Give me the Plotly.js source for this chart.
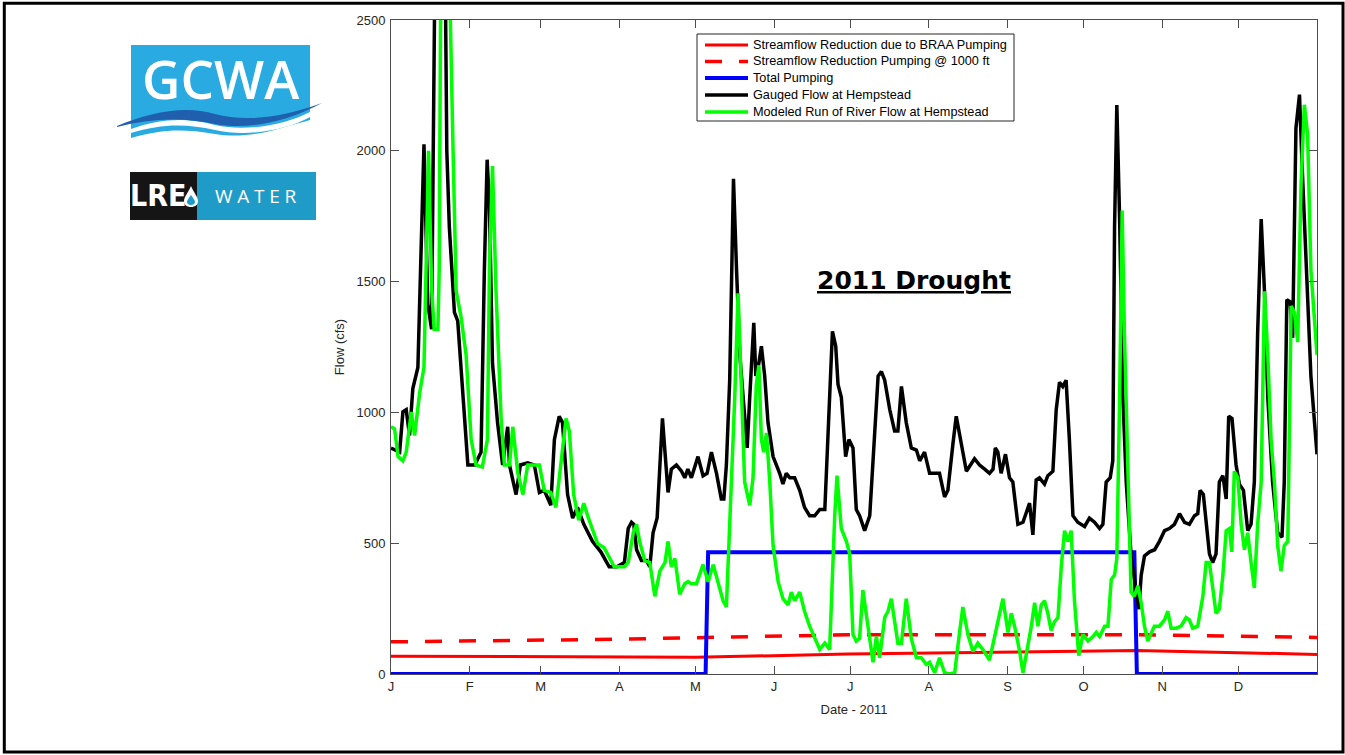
<!DOCTYPE html>
<html>
<head>
<meta charset="utf-8">
<script src="https://cdn.plot.ly/plotly-3.0.1.min.js"></script>
<style>html,body{margin:0;padding:0;background:#fff;}#chart{width:1345px;height:755px;}</style>
</head>
<body>
<div id="chart"></div>
<script>
// ---- data (day offset from 2011-01-01, flow in cfs) ----
const gaugedDay = [0,3.4,4.7,6,7.3,8.6,10.6,12,13,14.5,16,17.8,19.5,21,22,23,25,26.3,28.3,30.3,33,35.5,36.8,37.9,38.8,40,42,44,46,46.7,49.3,51,53.9,56.5,58.5,60.4,63,64.4,66.3,67.6,69.6,71.6,73.5,76,79.4,82.7,86,89,
92,93.5,94.8,95.7,96.8,98.7,100.7,102,103.3,104.9,106,107,108,109.2,110.5,112.5,114.5,115.8,117,118.4,121,123,124.6,126.3,128.3,130.2,131.2,132.2,133.5,135,136.2,137.5,138.8,140.4,141.4,143,143.8,145,146,147.3,148.6,150.6,153.2,154.5,155.8,157.2,159.1,161.1,163,165,167,169,171,172.3,174,175.3,176.2,177.5,179.2,180.5,182.1,
183.4,184.7,186.7,188.7,190,192,193.3,194.6,196.6,198.5,199.8,201.2,203.1,205.1,207.1,208.4,210.3,212.3,214.3,216.2,218.2,219.5,221.5,222.8,224.8,226.8,230,232,234,235.9,237.3,238.2,239.2,240.5,242.2,243.8,245.1,247.1,249.1,250.4,251.7,253,254.3,255.6,257.6,258.9,260.9,262.2,263.5,264.8,266.1,267.4,268.8,270.7,273.4,275.3,277.3,279.3,280.6,281.9,283.5,284.5,285.2,286.1,287.2,288.5,289.8,291.8,293.7,294.8,295.7,297,299,301,302.9,304.9,306.8,308.8,310.8,312.8,314.7,316.7,318,318.9,320.2,321.3,322.6,323.9,325.2,326.5,327.9,329.2,330.2,331.5,333.1,334.4,336,337.7,339,340.3,341.6,343,344.3,345.6,347.5,349.5,351.2,352.1,353.1,354.4,355.4,356.7,358.1,359.1,360.7,362.6,365];
const gaugedFlow = [864,848,1002,1010,912,1091,1172,1674,2025,1415,1318,3200,3600,3100,2000,1707,1382,1350,1058,799,799,848,1545,1966,1788,1188,961,799,945,799,686,799,807,799,694,702,645,896,985,961,686,596,637,572,507,467,410,410,
426,556,580,572,475,434,434,410,540,596,799,977,848,694,783,799,775,750,783,750,831,758,767,848,767,669,669,799,1123,1893,1545,1220,1058,864,1058,1342,1139,1188,1253,1139,961,831,767,726,767,750,750,702,637,605,605,629,629,896,1310,1253,1107,1058,831,896,864,
629,605,548,605,815,1139,1156,1123,1010,929,929,1099,961,864,856,815,848,767,767,767,677,702,880,985,880,775,823,799,783,767,783,864,848,767,840,750,734,572,580,621,653,532,742,750,726,758,775,1010,1115,1099,1123,896,605,580,564,596,580,556,572,734,750,815,1707,2175,1739,1058,734,442,313,248,378,451,467,475,507,548,556,572,613,580,572,605,613,702,686,572,459,426,459,734,758,669,985,977,799,726,702,548,572,734,1301,1739,1463,1058,734,540,523,734,1431,1423,1285,2087,2215,1950,1545,1139,840];

const modeledDay = [0,1.4,2.8,4.7,6,8,9.3,11.3,13,14,14.8,16,17,18.5,19,19.8,21,22.5,23.4,24.4,25.7,27.6,29.6,31.6,33.5,36,38,38.8,40,41.4,43.4,44.7,46.7,48,50,52,53.9,56.5,58.5,60.4,63,65,67,69,70.3,72,74,76,77.5,81.4,84,88,
92,93.5,95.5,96.8,98,100,102,104,106,108,109.2,110.5,111.9,113.8,115.8,117.1,118.4,120.4,123,125,127,129,130.9,132.2,134.2,135.5,136.8,138,139.4,141.4,142.7,144,145,146,146.9,148,149.3,150.6,152.6,154.5,156.5,157.8,159.1,161.1,163,165,167,169,171,172.9,174.9,175.8,177.5,179.5,180.8,
182.1,183.4,184.7,186,187.4,188.7,190,191.3,192.6,194.6,195.9,197.2,198.5,199.8,201.2,203.1,205.1,207.1,209,211,212.3,214.3,216.2,218.2,220.2,222.2,224.1,225.4,227.4,229.4,231.3,233.3,235.9,238.6,241.2,243.2,244.5,245.8,247.8,249.1,250.4,252.4,253.7,255,256.3,257.6,258.9,260.2,261.5,262.9,264.2,265.5,266.8,268.1,269.4,271.1,272.7,274.7,276.7,278,279.3,281.3,282.6,283.9,285.2,286.1,287.2,288.2,289.1,290.4,291.7,293,294.4,295.7,297,298.3,299.6,300.9,302.9,304.9,306.2,307.5,309.5,311.4,313.4,314.7,316,318,320,321.3,322.6,323.9,325.2,326.5,327.9,329.2,330.5,331.4,332.4,333.8,335.1,336.4,337.7,339,340.3,341.6,343,344.3,345.6,346.9,348.2,349.5,350.8,352.1,353.5,354.8,356.1,357.4,358.7,360,361.3,362.6,365];
const modeledFlow = [945,937,831,815,848,1002,912,1075,1172,1707,2000,1480,1318,1318,1545,3000,3700,3400,2500,2030,1463,1366,1220,896,799,791,896,1545,1942,1463,977,799,799,945,767,686,799,799,799,702,694,637,815,977,929,686,588,653,605,499,483,410,
410,426,540,572,507,434,426,297,394,426,507,410,442,305,345,353,345,345,418,353,418,345,280,256,734,1058,1455,1123,734,645,750,1107,1180,896,848,921,734,491,353,288,264,313,280,313,240,183,135,94,118,94,605,758,556,507,459,
151,126,135,321,216,126,45,143,62,216,240,288,199,118,118,288,135,62,62,37,45,5,62,5,0,5,159,256,151,86,118,94,53,167,288,159,232,183,86,5,70,183,272,183,264,280,232,167,199,216,410,548,507,548,280,70,151,126,143,159,143,183,183,361,378,442,1058,1772,1301,734,313,297,337,272,183,126,151,183,183,207,240,175,175,183,216,207,175,183,297,426,426,337,232,248,378,548,556,467,775,750,572,475,540,426,329,572,734,1463,1220,896,734,491,394,491,507,1407,1382,1269,1869,2176,2063,1545,1220];

const braaDay = [0,120,180,260,294,365];
const braaFlow = [68,64,76,84,90,75];

const deepDay = [0,90,180,265,294,365];
const deepFlow = [123,133,150,149,150,140];

const pumpDay = [0,124,125,293,294,365];
const pumpFlow = [0,0,465,465,0,0];

const monthTicks = ['2011-01-01','2011-02-01','2011-03-01','2011-04-01','2011-05-01','2011-06-01','2011-07-01','2011-08-01','2011-09-01','2011-10-01','2011-11-01','2011-12-01'];
const monthLabels = ['J','F','M','A','M','J','J','A','S','O','N','D'];

const seriesNames = ['Streamflow Reduction due to BRAA Pumping','Streamflow Reduction Pumping @ 1000 ft','Total Pumping','Gauged Flow at Hempstead','Modeled Run of River Flow at Hempstead'];

// ---- helpers ----
function toDate(d){
  const t = new Date(Date.UTC(2011,0,1) + d*86400000);
  return t.toISOString().slice(0,19).replace('T',' ');
}
const dates = arr => arr.map(toDate);

// pixel -> paper conversion for decorations
const PL=391, PR=1317, PT=20, PB=674;
const X = p => (p-PL)/(PR-PL);
const Y = p => (PB-p)/(PB-PT);
const path = s => s.replace(/(-?\d+\.?\d*),(-?\d+\.?\d*)/g,(m,a,b)=>X(+a).toFixed(5)+','+Y(+b).toFixed(5));

const styles = [
  {color:'#ff0000', width:3},
  {color:'#ff0000', width:3.5, dash:'17px,17px'},
  {color:'#0000ff', width:4},
  {color:'#000000', width:3.5},
  {color:'#00ff00', width:3.5}
];
const seriesX = [braaDay, deepDay, pumpDay, gaugedDay, modeledDay];
const seriesY = [braaFlow, deepFlow, pumpFlow, gaugedFlow, modeledFlow];

const traces = seriesNames.map((n,i)=>({x:dates(seriesX[i]), y:seriesY[i], name:n, mode:'lines', line:styles[i], showlegend:false}));

const axisFont = {family:'Liberation Sans, Arial, sans-serif', size:13, color:'#262626'};

const shapes = [
  // outer frame
  {type:'rect', xref:'paper', yref:'paper', x0:X(4.3), x1:X(1343), y0:Y(752), y1:Y(3.3), line:{color:'#000', width:3}, layer:'above'},
  // GCWA logo
  {type:'path', xref:'paper', yref:'paper', path:path('M131,45 L310,45 L310,120 C280,128 250,140 215,134 C180,128 160,130 131,138 Z'), fillcolor:'#29abe2', line:{width:0}},
  {type:'path', xref:'paper', yref:'paper', path:path('M131,129 C160,119 185,117 215,125 C245,132 285,125 310,112 L310,117 C285,131 245,137 215,130 C185,123 160,124 131,133 Z'), fillcolor:'#ffffff', line:{width:0}},
  {type:'path', xref:'paper', yref:'paper', path:path('M117,126 C150,112 185,105 215,114 C245,122 280,118 322,103 C285,123 245,130 215,124 C183,117 150,118 117,127 Z'), fillcolor:'#1f5fae', line:{width:0}},
  // LRE WATER logo
  {type:'rect', xref:'paper', yref:'paper', x0:X(130), x1:X(197), y0:Y(220), y1:Y(172), fillcolor:'#151515', line:{width:0}},
  {type:'rect', xref:'paper', yref:'paper', x0:X(197), x1:X(316), y0:Y(220), y1:Y(172), fillcolor:'#1f9bc8', line:{width:0}},
  {type:'path', xref:'paper', yref:'paper', path:path('M191,186 C194,193 198,197 198,201 C198,205 195,207 191,207 C187,207 184,205 184,201 C184,197 188,193 191,186 Z'), fillcolor:'#ffffff', line:{width:0}},
  {type:'path', xref:'paper', yref:'paper', path:path('M191,195 C193,198 195,200 195,202 C195,204 193,205 191,205 C189,205 187,204 187,202 C187,200 189,198 191,195 Z'), fillcolor:'#1f9bc8', line:{width:0}},
  // legend box
  {type:'rect', xref:'paper', yref:'paper', x0:X(697), x1:X(1014), y0:Y(121), y1:Y(34), fillcolor:'#ffffff', line:{color:'#262626', width:1}, layer:'above'}
];

const annotations = [
  {xref:'paper', yref:'paper', x:X(914), y:Y(280), text:'<b><u>2011 Drought</u></b>', showarrow:false, xanchor:'center', yanchor:'middle',
   font:{family:'DejaVu Sans, Verdana, sans-serif', size:25, color:'#000'}},
  {xref:'paper', yref:'paper', x:X(221), y:Y(78), text:'GCWA', showarrow:false, xanchor:'center', yanchor:'middle',
   font:{family:'Open Sans, sans-serif', size:53, color:'#ffffff', weight:600}},
  {xref:'paper', yref:'paper', x:X(158), y:Y(196), text:'<b>LRE</b>', showarrow:false, xanchor:'center', yanchor:'middle',
   font:{family:'Liberation Sans Narrow, DejaVu Sans Condensed, sans-serif', size:30, color:'#ffffff'}},
  {xref:'paper', yref:'paper', x:X(256), y:Y(196), text:'W\u2005A\u2005T\u2005E\u2005R', showarrow:false, xanchor:'center', yanchor:'middle',
   font:{family:'Open Sans, sans-serif', size:19, color:'#ffffff'}}
];

// legend drawn from the series names and styles
const legendRows = [45, 61.5, 78, 95, 112];
seriesNames.forEach((n,i)=>{
  shapes.push({type:'line', xref:'paper', yref:'paper', x0:X(705), x1:X(748), y0:Y(legendRows[i]), y1:Y(legendRows[i]),
               line:Object.assign({}, styles[i]), layer:'above'});
  annotations.push({xref:'paper', yref:'paper', x:X(751), y:Y(legendRows[i]), text:n, showarrow:false, xanchor:'left', yanchor:'middle',
               font:{family:'Liberation Sans, Arial, sans-serif', size:12.7, color:'#000'}});
});

const layout = {
  width:1345, height:755,
  margin:{l:PL, r:1345-PR, t:PT, b:755-PB},
  paper_bgcolor:'#ffffff', plot_bgcolor:'#ffffff',
  showlegend:false,
  xaxis:{type:'date', range:['2011-01-01','2012-01-01'], tickvals:monthTicks, ticktext:monthLabels,
         ticks:'inside', ticklen:8, tickcolor:'#4d4d4d', showline:true, linecolor:'#4d4d4d', linewidth:1, mirror:'ticks',
         showgrid:false, zeroline:false, tickfont:axisFont,
         title:{text:'Date - 2011', font:axisFont, standoff:12}},
  yaxis:{range:[0,2500], tickvals:[0,500,1000,1500,2000,2500],
         ticks:'inside', ticklen:8, tickcolor:'#4d4d4d', showline:true, linecolor:'#4d4d4d', linewidth:1, mirror:'ticks',
         showgrid:false, zeroline:false, tickfont:axisFont, ticklabelstandoff:2,
         title:{text:'Flow (cfs)', font:axisFont, standoff:8}},
  shapes:shapes,
  annotations:annotations
};

Plotly.newPlot('chart', traces, layout, {displayModeBar:false, staticPlot:true});
</script>
</body>
</html>
